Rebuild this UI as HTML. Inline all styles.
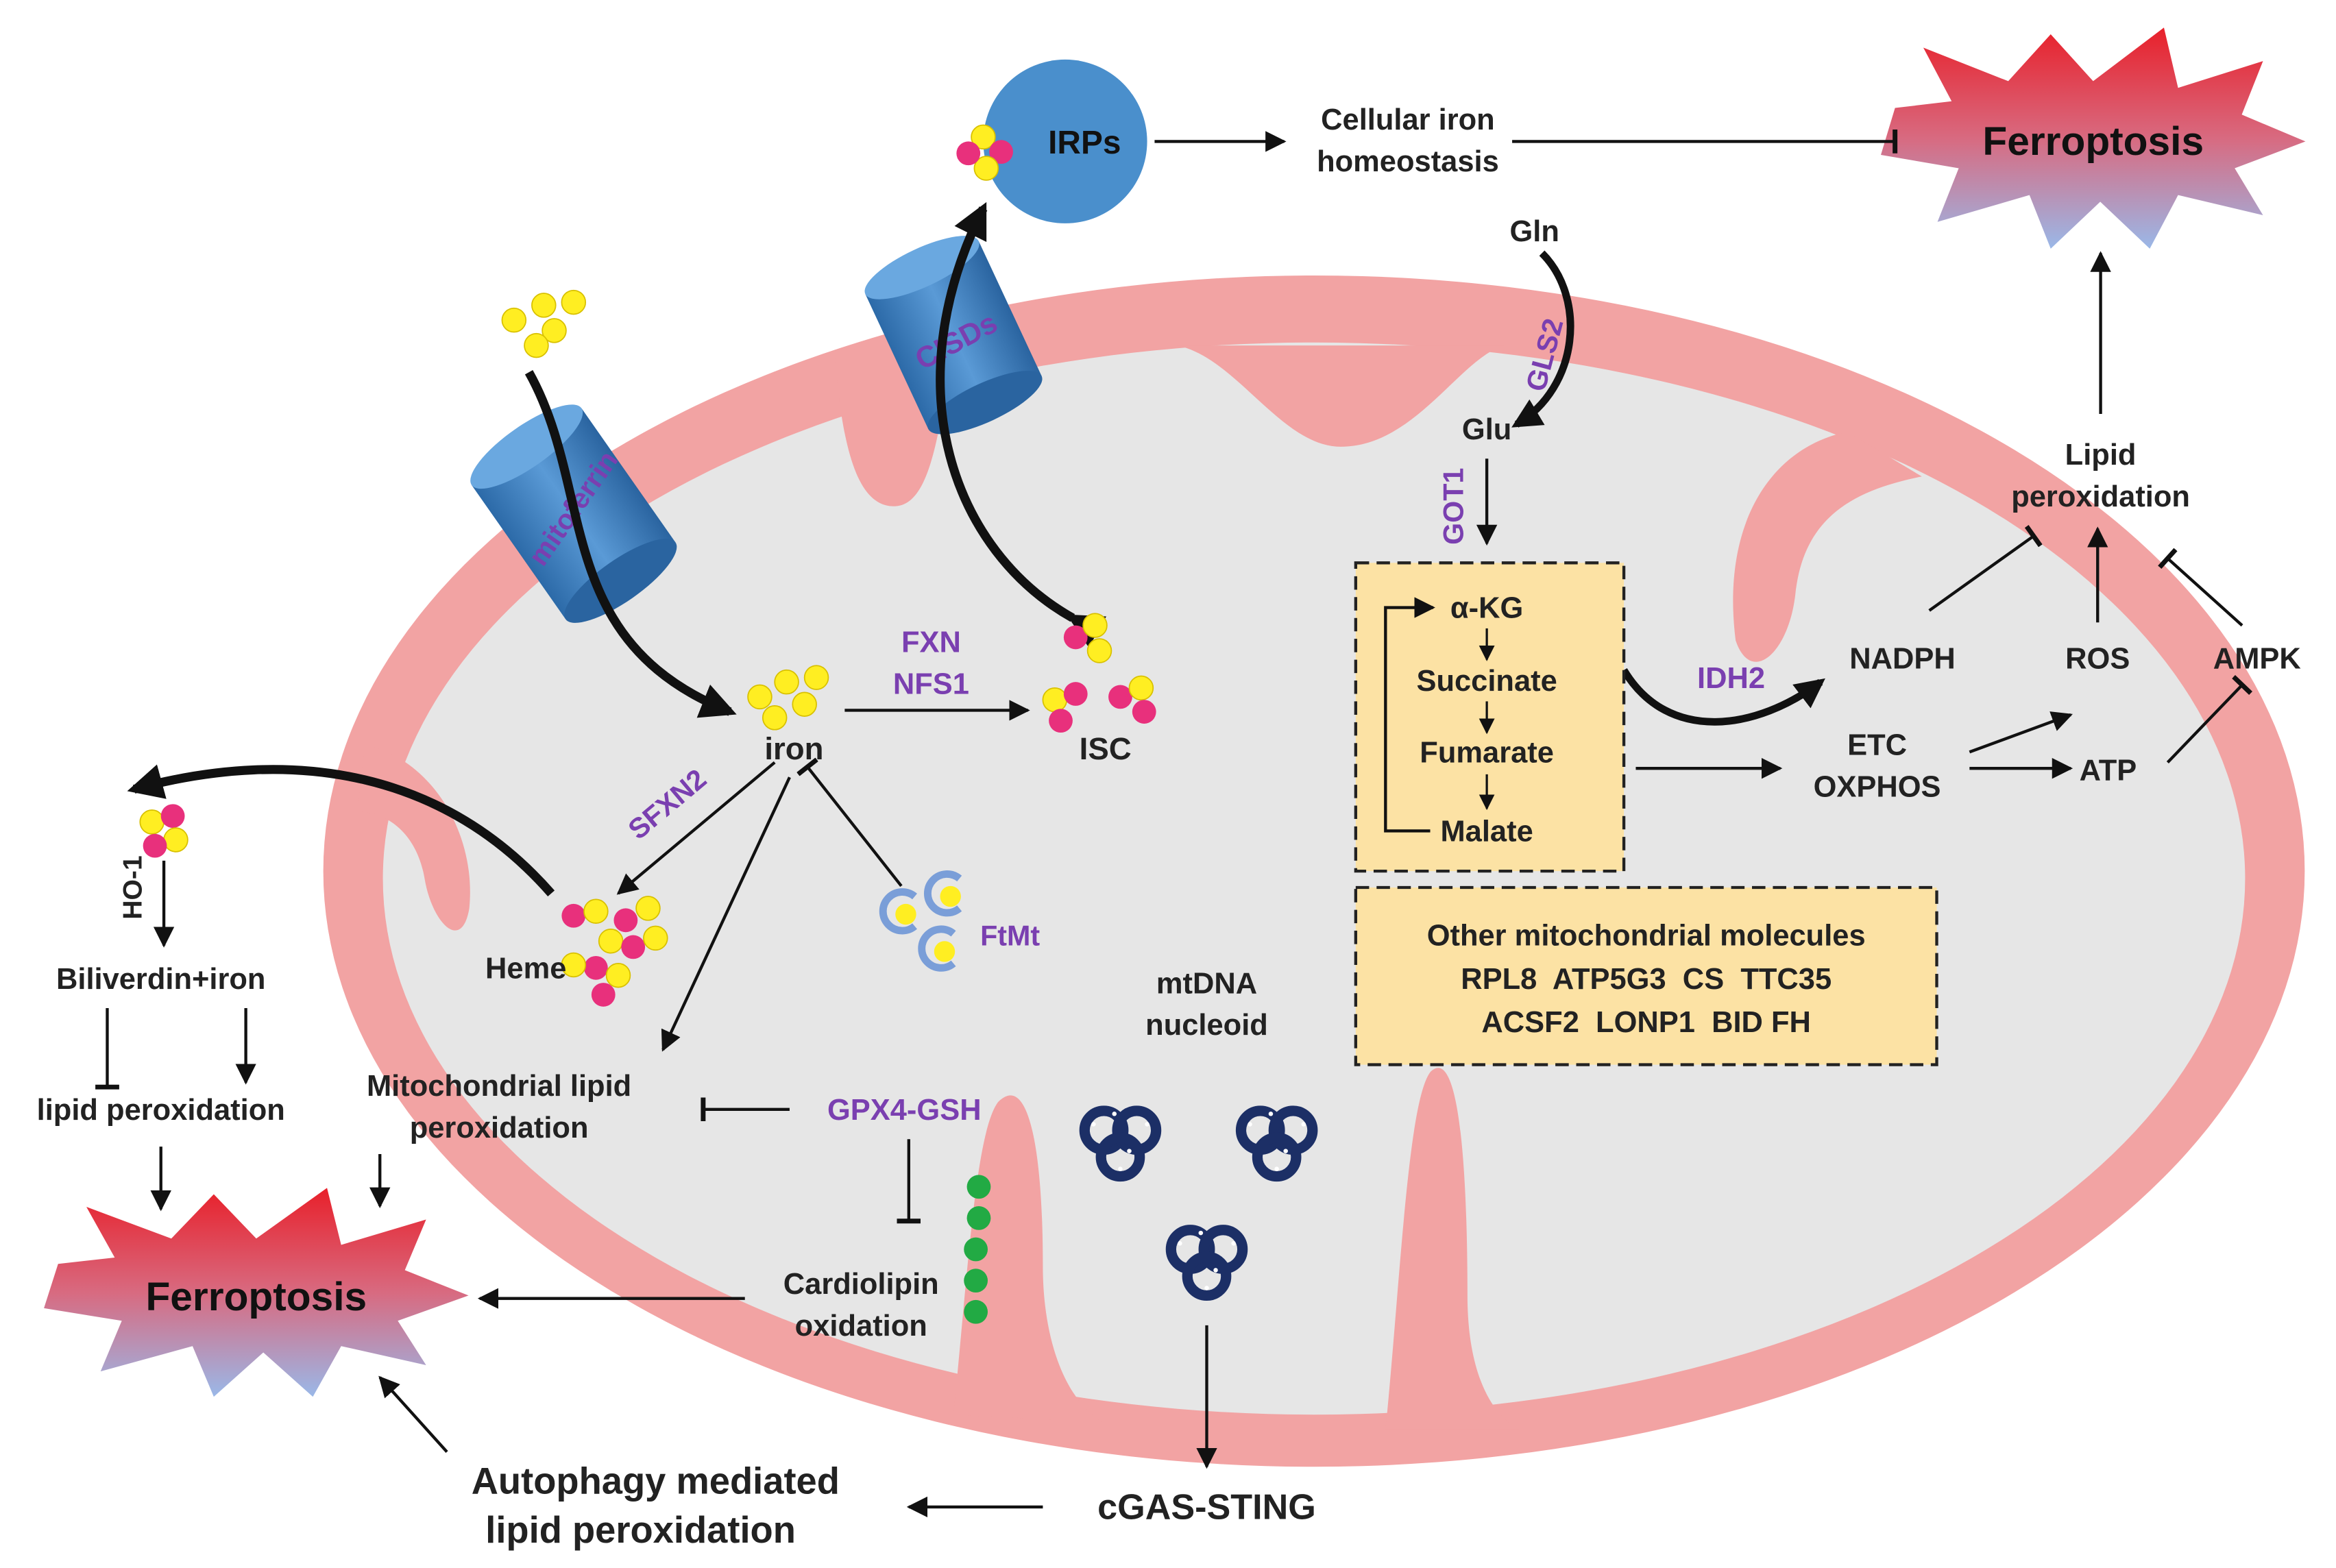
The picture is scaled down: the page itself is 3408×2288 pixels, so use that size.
<!DOCTYPE html>
<html><head><meta charset="utf-8"><style>
html,body{margin:0;padding:0;background:#fff}
svg{display:block}
text{font-family:"Liberation Sans",sans-serif;font-weight:bold;fill:#222;text-anchor:middle}
.p{fill:#7a3fb0}
</style></head><body>
<svg width="3408" height="2288" viewBox="0 0 1568 1053" preserveAspectRatio="none" xmlns="http://www.w3.org/2000/svg">
<defs>
<marker id="a" viewBox="0 0 10 10" refX="9" refY="5" markerWidth="7" markerHeight="7" orient="auto-start-reverse"><path d="M0,0L10,5L0,10z" fill="#111"/></marker>
<marker id="b" viewBox="0 0 10 10" refX="5" refY="5" markerWidth="8" markerHeight="8" orient="auto"><path d="M5,0V10" stroke="#111" stroke-width="2"/></marker>
<marker id="t" viewBox="0 0 10 10" refX="8" refY="5" markerWidth="4" markerHeight="4" orient="auto"><path d="M0,0L10,5L0,10z" fill="#111"/></marker>
<linearGradient id="fg" x1="0" y1="0" x2="0" y2="1"><stop offset="0" stop-color="#e8202a"/><stop offset="0.5" stop-color="#d86a80"/><stop offset="1" stop-color="#9ab8e8"/></linearGradient>
<linearGradient id="cy" x1="0" y1="0" x2="1" y2="0"><stop offset="0" stop-color="#2c6aa8"/><stop offset="0.5" stop-color="#5a9ad6"/><stop offset="1" stop-color="#2a64a0"/></linearGradient>
<g id="dna"><g fill="none" stroke="#1c2f66" stroke-width="7"><circle cx="-11" cy="-6" r="13"/><circle cx="11" cy="-6" r="13"/><circle cx="0" cy="12" r="13"/></g><g fill="#fff"><circle cx="-18" cy="-10" r="1.5"/><circle cx="18" cy="-10" r="1.5"/><circle cx="0" cy="20" r="1.5"/><circle cx="-4" cy="-17" r="1.5"/><circle cx="6" cy="8" r="1.5"/></g></g>
<g id="y"><circle r="8" fill="#ffee22" stroke="#d8c000" stroke-width="0.8"/></g>
<g id="m"><circle r="8" fill="#e8307c"/></g>
<g id="c"><path d="M8,-10 A13,13 0 1,0 8,10" fill="none" stroke="#7a9ed8" stroke-width="5"/><circle cx="2" cy="2" r="7" fill="#ffee22"/></g>
<g id="star"><path d="M-140,-25 L-100,-30 L-120,-70 L-60,-45 L-30,-80 L0,-45 L50,-85 L60,-40 L120,-60 L105,-20 L150,0 L100,20 L120,55 L60,40 L40,80 L5,45 L-30,80 L-45,40 L-110,60 L-95,20 L-150,10 Z" fill="url(#fg)"/></g>
</defs>

<ellipse cx="882" cy="585" rx="665" ry="400" fill="#f2a3a3"/>
<ellipse cx="882" cy="590" rx="625" ry="360" fill="#e6e6e6"/>
<g fill="#f2a3a3">
<path d="M560,235 C565,300 575,340 600,340 C625,340 630,290 640,232 Z"/>
<path d="M790,232 C830,240 860,300 900,300 C950,300 980,240 1010,232 Z"/>
<path d="M1240,290 C1190,300 1155,350 1165,430 C1175,460 1200,440 1205,400 C1210,350 1240,330 1290,320 Z"/>
<path d="M640,950 C650,850 655,760 670,740 C690,720 700,770 700,850 C700,900 715,940 740,955 Z"/>
<path d="M930,960 C940,860 945,740 960,720 C980,700 985,790 985,870 C985,920 1000,950 1020,960 Z"/>
<path d="M245,500 C290,510 320,560 315,610 C310,640 290,620 285,590 C280,560 260,545 240,545 Z"/>
</g>

<use href="#star" transform="translate(1405,95) scale(0.95,0.9)"/>
<text x="1405" y="104" font-size="27" style="fill:#111">Ferroptosis</text>
<use href="#star" transform="translate(172,870) scale(0.95,0.85)"/>
<text x="172" y="880" font-size="27" style="fill:#111">Ferroptosis</text>

<g transform="translate(385,345) rotate(-35)">
<rect x="-45" y="-55" width="90" height="110" fill="url(#cy)"/>
<ellipse cx="0" cy="55" rx="45" ry="14" fill="#2a64a0"/>
<ellipse cx="0" cy="-55" rx="45" ry="14" fill="#6aa8e0"/>
</g>
<text transform="translate(390,345) rotate(-55)" font-size="19" class="p">mitoferrin</text>
<g transform="translate(640,225) rotate(-25)">
<rect x="-42" y="-50" width="84" height="100" fill="url(#cy)"/>
<ellipse cx="0" cy="50" rx="42" ry="13" fill="#2a64a0"/>
<ellipse cx="0" cy="-50" rx="42" ry="13" fill="#6aa8e0"/>
</g>
<text transform="translate(645,235) rotate(-28)" font-size="20" class="p">CISDs</text>

<circle cx="715" cy="95" r="55" fill="#4a8fcc"/>
<text x="728" y="103" font-size="22" style="fill:#111">IRPs</text>
<use href="#y" x="660" y="92"/><use href="#m" x="672" y="102"/><use href="#y" x="662" y="113"/><use href="#m" x="650" y="103"/>

<path d="M355,250 C400,330 370,430 490,478" fill="none" stroke="#111" stroke-width="6" marker-end="url(#t)"/>
<path d="M720,415 C640,370 600,260 660,140" fill="none" stroke="#111" stroke-width="6" marker-end="url(#t)" marker-start="url(#t)"/>
<path d="M370,600 C300,520 200,500 90,530" fill="none" stroke="#111" stroke-width="6" marker-end="url(#t)"/>
<path d="M1090,450 C1120,500 1180,490 1222,458" fill="none" stroke="#111" stroke-width="5" marker-end="url(#t)"/>
<path d="M1035,170 C1065,200 1060,260 1018,285" fill="none" stroke="#111" stroke-width="5" marker-end="url(#t)"/>

<use href="#y" x="345" y="215"/><use href="#y" x="365" y="205"/><use href="#y" x="385" y="203"/><use href="#y" x="372" y="222"/><use href="#y" x="360" y="232"/>

<use href="#y" x="510" y="468"/><use href="#y" x="528" y="458"/><use href="#y" x="548" y="455"/><use href="#y" x="520" y="482"/><use href="#y" x="540" y="473"/>
<text x="533" y="510" font-size="21">iron</text>
<text x="625" y="438" font-size="20" class="p">FXN</text>
<text x="625" y="466" font-size="20" class="p">NFS1</text>
<line x1="567" y1="477" x2="690" y2="477" stroke="#111" stroke-width="2" marker-end="url(#a)"/>
<use href="#m" x="722" y="428"/><use href="#y" x="735" y="420"/><use href="#y" x="738" y="437"/>
<use href="#y" x="708" y="470"/><use href="#m" x="722" y="466"/><use href="#m" x="712" y="484"/>
<use href="#m" x="752" y="468"/><use href="#y" x="766" y="462"/><use href="#m" x="768" y="478"/>
<text x="742" y="510" font-size="21">ISC</text>

<text transform="translate(452,545) rotate(-40)" font-size="19" class="p">SFXN2</text>
<line x1="520" y1="512" x2="415" y2="600" stroke="#111" stroke-width="2" marker-end="url(#a)"/>
<g><use href="#m" x="385" y="615"/><use href="#y" x="400" y="612"/><use href="#m" x="420" y="618"/><use href="#y" x="435" y="610"/><use href="#y" x="410" y="632"/><use href="#m" x="425" y="636"/><use href="#y" x="440" y="630"/><use href="#m" x="400" y="650"/><use href="#y" x="415" y="655"/><use href="#m" x="405" y="668"/><use href="#y" x="385" y="648"/></g>
<text x="353" y="657" font-size="20">Heme</text>
<line x1="530" y1="522" x2="445" y2="705" stroke="#111" stroke-width="2" marker-end="url(#a)"/>
<line x1="605" y1="595" x2="542" y2="515" stroke="#111" stroke-width="2" marker-end="url(#b)"/>
<use href="#c" x="606" y="612"/><use href="#c" x="636" y="600"/><use href="#c" x="632" y="637"/>
<text x="678" y="635" font-size="19" class="p">FtMt</text>

<text x="335" y="736" font-size="20">Mitochondrial lipid</text>
<text x="335" y="764" font-size="20">peroxidation</text>
<text x="607" y="752" font-size="20" class="p">GPX4-GSH</text>
<line x1="530" y1="745" x2="472" y2="745" stroke="#111" stroke-width="2" marker-end="url(#b)"/>
<line x1="610" y1="765" x2="610" y2="820" stroke="#111" stroke-width="2" marker-end="url(#b)"/>
<g fill="#22aa44"><circle cx="657" cy="797" r="8"/><circle cx="657" cy="818" r="8"/><circle cx="655" cy="839" r="8"/><circle cx="655" cy="860" r="8"/><circle cx="655" cy="881" r="8"/></g>
<text x="578" y="869" font-size="20">Cardiolipin</text>
<text x="578" y="897" font-size="20">oxidation</text>
<line x1="500" y1="872" x2="322" y2="872" stroke="#111" stroke-width="2" marker-end="url(#a)"/>
<line x1="255" y1="775" x2="255" y2="810" stroke="#111" stroke-width="2" marker-end="url(#a)"/>

<use href="#y" x="102" y="552"/><use href="#m" x="116" y="548"/><use href="#y" x="118" y="564"/><use href="#m" x="104" y="568"/>
<text transform="translate(95,596) rotate(-90)" font-size="18">HO-1</text>
<line x1="110" y1="578" x2="110" y2="635" stroke="#111" stroke-width="2" marker-end="url(#a)"/>
<text x="108" y="664" font-size="20">Biliverdin+iron</text>
<line x1="72" y1="677" x2="72" y2="730" stroke="#111" stroke-width="2" marker-end="url(#b)"/>
<line x1="165" y1="677" x2="165" y2="727" stroke="#111" stroke-width="2" marker-end="url(#a)"/>
<text x="108" y="752" font-size="20">lipid peroxidation</text>
<line x1="108" y1="770" x2="108" y2="812" stroke="#111" stroke-width="2" marker-end="url(#a)"/>

<line x1="775" y1="95" x2="862" y2="95" stroke="#111" stroke-width="2" marker-end="url(#a)"/>
<text x="945" y="87" font-size="20">Cellular iron</text>
<text x="945" y="115" font-size="20">homeostasis</text>
<line x1="1015" y1="95" x2="1272" y2="95" stroke="#111" stroke-width="2" marker-end="url(#b)"/>
<line x1="1410" y1="278" x2="1410" y2="170" stroke="#111" stroke-width="2" marker-end="url(#a)"/>
<text x="1410" y="312" font-size="20">Lipid</text>
<text x="1410" y="340" font-size="20">peroxidation</text>
<text x="1277" y="449" font-size="20">NADPH</text>
<text x="1408" y="449" font-size="20">ROS</text>
<text x="1515" y="449" font-size="20">AMPK</text>
<text x="1260" y="507" font-size="20">ETC</text>
<text x="1260" y="535" font-size="20">OXPHOS</text>
<text x="1415" y="524" font-size="20">ATP</text>
<line x1="1295" y1="410" x2="1365" y2="360" stroke="#111" stroke-width="2" marker-end="url(#b)"/>
<line x1="1408" y1="418" x2="1408" y2="355" stroke="#111" stroke-width="2" marker-end="url(#a)"/>
<line x1="1505" y1="420" x2="1455" y2="375" stroke="#111" stroke-width="2" marker-end="url(#b)"/>
<line x1="1455" y1="512" x2="1505" y2="460" stroke="#111" stroke-width="2" marker-end="url(#b)"/>
<line x1="1322" y1="505" x2="1390" y2="480" stroke="#111" stroke-width="2" marker-end="url(#a)"/>
<line x1="1322" y1="516" x2="1390" y2="516" stroke="#111" stroke-width="2" marker-end="url(#a)"/>
<line x1="1098" y1="516" x2="1195" y2="516" stroke="#111" stroke-width="2" marker-end="url(#a)"/>
<text x="1162" y="462" font-size="20" class="p">IDH2</text>

<text x="1030" y="162" font-size="20">Gln</text>
<text transform="translate(1043,240) rotate(-75)" font-size="19" class="p">GLS2</text>
<text x="998" y="295" font-size="20">Glu</text>
<text transform="translate(982,340) rotate(-90)" font-size="19" class="p">GOT1</text>
<line x1="998" y1="308" x2="998" y2="365" stroke="#111" stroke-width="2" marker-end="url(#a)"/>

<rect x="910" y="378" width="180" height="207" fill="#fce2a4" stroke="#222" stroke-width="2" stroke-dasharray="9,5"/>
<text x="998" y="415" font-size="20">α-KG</text>
<text x="998" y="464" font-size="20">Succinate</text>
<text x="998" y="512" font-size="20">Fumarate</text>
<text x="998" y="565" font-size="20">Malate</text>
<line x1="998" y1="422" x2="998" y2="443" stroke="#111" stroke-width="1.5" marker-end="url(#a)"/>
<line x1="998" y1="471" x2="998" y2="492" stroke="#111" stroke-width="1.5" marker-end="url(#a)"/>
<line x1="998" y1="520" x2="998" y2="543" stroke="#111" stroke-width="1.5" marker-end="url(#a)"/>
<polyline points="960,558 930,558 930,408 962,408" fill="none" stroke="#111" stroke-width="2" marker-end="url(#a)"/>

<rect x="910" y="596" width="390" height="119" fill="#fce2a4" stroke="#222" stroke-width="2" stroke-dasharray="9,5"/>
<text x="1105" y="635" font-size="20">Other mitochondrial molecules</text>
<text x="1105" y="664" font-size="20" xml:space="preserve">RPL8  ATP5G3  CS  TTC35</text>
<text x="1105" y="693" font-size="20" xml:space="preserve">ACSF2  LONP1  BID FH</text>

<text x="810" y="667" font-size="20">mtDNA</text>
<text x="810" y="695" font-size="20">nucleoid</text>
<use href="#dna" x="752" y="765"/><use href="#dna" x="857" y="765"/><use href="#dna" x="810" y="845"/>
<line x1="810" y1="890" x2="810" y2="985" stroke="#111" stroke-width="2" marker-end="url(#a)"/>
<text x="810" y="1020" font-size="24">cGAS-STING</text>
<line x1="700" y1="1012" x2="610" y2="1012" stroke="#111" stroke-width="2" marker-end="url(#a)"/>
<text x="440" y="1003" font-size="25">Autophagy mediated</text>
<text x="430" y="1036" font-size="25">lipid peroxidation</text>
<line x1="300" y1="975" x2="255" y2="925" stroke="#111" stroke-width="2" marker-end="url(#a)"/>
</svg>
</body></html>
